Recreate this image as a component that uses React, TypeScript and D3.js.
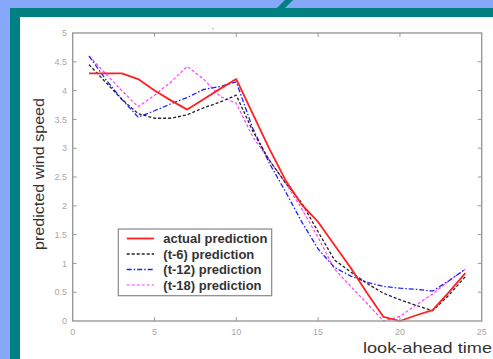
import React from "react";
import * as d3 from "d3";

const steps = d3.range(1, 25);
const actual = [4.3, 4.3, 4.3, 4.2, 4.0, 3.83, 3.67, 3.85, 4.03, 4.2, 3.6, 3.0, 2.45, 2.02, 1.72, 1.32, 0.92, 0.48, 0.07, 0.0, 0.1, 0.19, 0.5, 0.83];
const t6 = [4.45, 4.15, 3.85, 3.6, 3.52, 3.52, 3.58, 3.7, 3.8, 3.92, 3.3, 2.8, 2.4, 2.05, 1.55, 1.06, 0.85, 0.65, 0.48, 0.37, 0.27, 0.18, 0.45, 0.77];
const t12 = [4.6, 4.2, 3.85, 3.54, 3.65, 3.77, 3.88, 4.02, 4.07, 4.15, 3.35, 2.75, 2.25, 1.72, 1.25, 0.93, 0.78, 0.67, 0.6, 0.57, 0.55, 0.52, 0.7, 0.9];
const t18 = [4.6, 4.3, 4.0, 3.72, 3.92, 4.15, 4.42, 4.2, 3.9, 3.78, 3.2, 2.8, 2.4, 1.95, 1.45, 0.9, 0.6, 0.3, 0.0, 0.08, 0.28, 0.47, 0.7, 0.9];
const seriesNames = ["actual prediction", "(t-6) prediction", "(t-12) prediction", "(t-18) prediction"];
const xTicks = [0, 5, 10, 15, 20, 25];
const yTicks = [0, 0.5, 1, 1.5, 2, 2.5, 3, 3.5, 4, 4.5, 5];

const seriesStyle = [
  { color: "#ff2020", width: 1.8, dash: "" },
  { color: "#222222", width: 1.3, dash: "3,2" },
  { color: "#2020ff", width: 1.3, dash: "5,2,1.5,2" },
  { color: "#ff40ff", width: 1.2, dash: "3,2" },
];

export default function App() {
  const W = 493, H = 359;
  const L = 72.7, R = 481.7, T = 33, B = 321;
  const x = d3.scaleLinear().domain([0, 25]).range([L, R]);
  const y = d3.scaleLinear().domain([0, 5]).range([B, T]);
  const data = [actual, t6, t12, t18];
  const line = d3.line<number>().x((_, i) => x(steps[i])).y((v) => y(v));
  const axisCol = "#9a9a9a";
  const tickCol = "#a8a8a8";
  const font = "Liberation Sans, Arial, sans-serif";
  const lgX = 118.3, lgY = 229, lgW = 153.4, lgH = 66.7;

  return (
    <svg width={W} height={H} style={{ position: "absolute", left: 0, top: 0, display: "block" }}>
      <rect x={0} y={0} width={W} height={H} fill="#86a8fb" />
      <rect x={10} y={8} width={W - 10} height={H - 8} fill="#008080" />
      <polygon points="285,0 293,0 285,8 277,8" fill="#008080" />
      <rect x={20} y={17} width={W - 20} height={H - 17} fill="#ffffff" />

      <circle cx={213} cy={28.5} r={0.7} fill="#999" />

      {/* data lines */}
      {data.map((d, k) => (
        <path
          key={k}
          d={line(d) || ""}
          fill="none"
          stroke={seriesStyle[k].color}
          strokeWidth={seriesStyle[k].width}
          strokeDasharray={seriesStyle[k].dash || undefined}
          strokeLinejoin="round"
        />
      )).reverse()}

      {/* axes box */}
      <rect x={L} y={T} width={R - L} height={B - T} fill="none" stroke={axisCol} strokeWidth={1.4} />
      {xTicks.slice(1, -1).map((t) => (
        <g key={"xt" + t}>
          <line x1={x(t)} x2={x(t)} y1={B} y2={B - 4} stroke={axisCol} strokeWidth={1} />
          <line x1={x(t)} x2={x(t)} y1={T} y2={T + 4} stroke={axisCol} strokeWidth={1} />
        </g>
      ))}
      {yTicks.slice(1, -1).map((t) => (
        <g key={"yt" + t}>
          <line x1={L} x2={L + 4} y1={y(t)} y2={y(t)} stroke={axisCol} strokeWidth={1} />
          <line x1={R} x2={R - 4} y1={y(t)} y2={y(t)} stroke={axisCol} strokeWidth={1} />
        </g>
      ))}
      {xTicks.map((t) => (
        <text key={"xl" + t} x={x(t)} y={335} fontSize={9} fill={tickCol} textAnchor="middle" fontFamily={font}>
          {t}
        </text>
      ))}
      {yTicks.map((t) => (
        <text key={"yl" + t} x={67} y={y(t) + 3.2} fontSize={9} fill={tickCol} textAnchor="end" fontFamily={font}>
          {t}
        </text>
      ))}

      {/* axis labels */}
      <text
        x={0}
        y={0}
        transform="translate(43.5,174) rotate(-90)"
        fontSize={14}
        fill="#333"
        textAnchor="middle"
        fontFamily={font}
        textLength={152}
        lengthAdjust="spacingAndGlyphs"
      >
        predicted wind speed
      </text>
      <text x={363} y={353} fontSize={15} fill="#333" fontFamily={font} textLength={129} lengthAdjust="spacingAndGlyphs">
        look-ahead time
      </text>

      {/* legend */}
      <rect x={lgX} y={lgY} width={lgW} height={lgH} fill="#ffffff" stroke="#888" strokeWidth={1.2} />
      {seriesNames.map((n, k) => {
        const ry = 238.5 + k * 15.5;
        return (
          <g key={"lg" + k}>
            <line
              x1={126.7}
              x2={154}
              y1={ry}
              y2={ry}
              stroke={seriesStyle[k].color}
              strokeWidth={seriesStyle[k].width}
              strokeDasharray={seriesStyle[k].dash || undefined}
            />
            <text
              x={163.3}
              y={ry + 4.5}
              fontSize={13}
              fontWeight="bold"
              fill="#333"
              fontFamily={font}
            >
              {n}
            </text>
          </g>
        );
      })}
    </svg>
  );
}
